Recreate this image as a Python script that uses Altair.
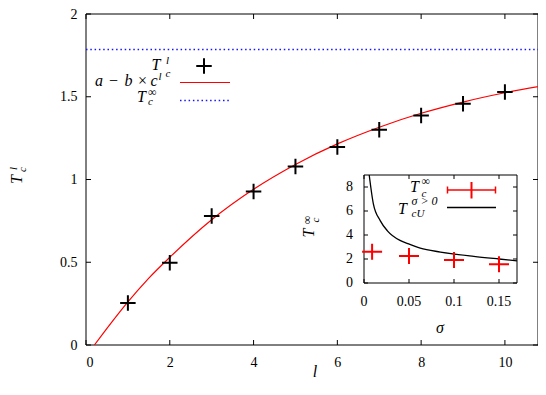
import altair as alt
import pandas as pd

# ---------------- data ----------------
L_VALUES = [1, 2, 3, 4, 5, 6, 7, 8, 9, 10]
TC_L = [0.254, 0.497, 0.779, 0.927, 1.079, 1.197, 1.300, 1.386, 1.457, 1.528]

FIT_L = [0.2, 0.5, 1, 1.5, 2, 3, 4, 5, 6, 7, 8, 9, 10, 11]
FIT_T = [0.0, 0.10, 0.26, 0.404, 0.53, 0.757, 0.941, 1.091, 1.215, 1.316, 1.40, 1.468, 1.524, 1.57]

TC_INF_LINE = [1.785]

X_TICKS = [0, 2, 4, 6, 8, 10]
Y_TICKS = [0, 0.5, 1, 1.5, 2]

SIGMA = [0.009, 0.05, 0.10, 0.15]
TC_INF = [2.6, 2.25, 1.92, 1.56]

U_SIGMA = [0.0058, 0.0104, 0.018, 0.026, 0.04, 0.048, 0.0625, 0.085, 0.122, 0.15, 0.17]
U_T = [9.0, 6.6, 5.2, 4.35, 3.55, 3.3, 2.9, 2.58, 2.22, 2.0, 1.85]

IX_TICKS = [0, 0.05, 0.10, 0.15]
IY_TICKS = [0, 2, 4, 6, 8]

# ---------------- layout ----------------
OX, OY = 86, 14          # page position of the main plot's top-left corner
W, H = 452, 331
X_MAX = 10.79            # keeps ~41.9 px per unit of l, as in the reference
PAD_TOP = OY - 8
PAD_BOTTOM = 36
FONT = "Liberation Serif"
NUMFONT = "Liberation Serif"


def P(X):
    return X - OX


def Q(Y):
    return Y - OY


ONE = pd.DataFrame({"k": [0]})


def txt(s, X, Y, size=16, italic=True, align="left", baseline="alphabetic", angle=0):
    return alt.Chart(ONE).mark_text(
        text=s, font=FONT, fontSize=size,
        fontStyle="italic" if italic else "normal",
        align=align, baseline=baseline, angle=angle, color="black",
    ).encode(x=alt.value(P(X)), y=alt.value(Q(Y)))


def hrule(X1, X2, Y, color, width=1.5, dash=None):
    kw = dict(color=color, strokeWidth=width)
    if dash:
        kw["strokeDash"] = dash
    return alt.Chart(ONE).mark_rule(**kw).encode(
        x=alt.value(P(X1)), x2=alt.value(P(X2)), y=alt.value(Q(Y)))


def vrule(X, Y1, Y2, color, width=1.5):
    return alt.Chart(ONE).mark_rule(color=color, strokeWidth=width).encode(
        x=alt.value(P(X)), y=alt.value(Q(Y1)), y2=alt.value(Q(Y2)))


PLUS = "M-1,0L1,0M0,-1L0,1"
PLUS_WIDE = "M-1.25,0L1.25,0M0,-1L0,1"

# ---------------- main plot ----------------
xs = alt.Scale(domain=[0, X_MAX], nice=False, zero=False)
ys = alt.Scale(domain=[0, 2], nice=False, zero=False)
AX = alt.Axis(values=X_TICKS, ticks=False, domain=False, grid=False, title=None,
              labelFont=NUMFONT, labelFontSize=14, labelPadding=10, labelColor="black")
AY = alt.Axis(values=Y_TICKS, format="~g", ticks=False, domain=False, grid=False, title=None,
              labelFont=NUMFONT, labelFontSize=14, labelPadding=9, labelColor="black")

frame = alt.Chart(ONE).mark_rect(fillOpacity=0, stroke="black", strokeWidth=1).encode(
    x=alt.value(0), x2=alt.value(W), y=alt.value(0), y2=alt.value(H))

xt_df = pd.DataFrame({"v": X_TICKS})
yt_df = pd.DataFrame({"v": Y_TICKS})
xt_bottom = alt.Chart(xt_df).mark_rule(color="black").encode(
    x=alt.X("v:Q", scale=xs, axis=AX), y=alt.value(H), y2=alt.value(H - 5))
xt_top = alt.Chart(xt_df).mark_rule(color="black").encode(
    x=alt.X("v:Q", scale=xs, axis=AX), y=alt.value(0), y2=alt.value(5))
yt_left = alt.Chart(yt_df).mark_rule(color="black").encode(
    y=alt.Y("v:Q", scale=ys, axis=AY), x=alt.value(0), x2=alt.value(5))
yt_right = alt.Chart(yt_df).mark_rule(color="black").encode(
    y=alt.Y("v:Q", scale=ys, axis=AY), x=alt.value(W - 5), x2=alt.value(W))

inf_line = alt.Chart(pd.DataFrame({"t": TC_INF_LINE})).mark_rule(
    color="#1515ff", strokeWidth=1.5, strokeDash=[1.5, 2.8]).encode(
    y=alt.Y("t:Q", scale=ys, axis=AY), x=alt.value(0), x2=alt.value(W))

fit = alt.Chart(pd.DataFrame({"l": FIT_L, "t": FIT_T})).mark_line(
    color="#ff0000", strokeWidth=1.2, interpolate="monotone", clip=True).encode(
    x=alt.X("l:Q", scale=xs, axis=AX), y=alt.Y("t:Q", scale=ys, axis=AY))

pts = alt.Chart(pd.DataFrame({"l": L_VALUES, "t": TC_L})).mark_point(
    shape=PLUS, size=240, filled=False, strokeWidth=2, color="black", opacity=1).encode(
    x=alt.X("l:Q", scale=xs, axis=AX), y=alt.Y("t:Q", scale=ys, axis=AY))

legend_main = [
    txt("T", 151.5, 70), txt("l", 166, 64, 11), txt("c", 165.5, 76.5, 11),
    alt.Chart(ONE).mark_point(shape=PLUS, size=240, filled=False, strokeWidth=2,
                              color="black", opacity=1).encode(
        x=alt.value(P(204)), y=alt.value(Q(66))),
    txt("a", 95, 86), txt("−", 113.5, 86, italic=False, align="center"),
    txt("b", 124.5, 86), txt("×", 142.5, 86, italic=False, align="center"),
    txt("c", 150.5, 86), txt("l", 158.5, 80, 11),
    hrule(180, 230, 82.5, "#ff0000", 1.2),
    txt("T", 137, 101.5), txt("∞", 148, 96, 12, italic=False), txt("c", 148, 104.5, 11),
    hrule(180, 229, 100.5, "#1515ff", 1.5, [1.5, 2.8]),
]

titles_main = [
    txt("T", 22, 179.5, 16, align="center", angle=270),
    txt("c", 26, 169.5, 11, align="center", angle=270),
    txt("l", 16.5, 168.5, 11, align="center", angle=270),
    txt("l", 315, 377, 16, align="center"),
]

main = alt.layer(frame, inf_line, fit, pts, xt_bottom, xt_top, yt_left, yt_right,
                 *legend_main, *titles_main)

# ---------------- inset ----------------
ixs = alt.Scale(domain=[0, 0.17], range=[P(364), P(517)], nice=False, zero=False)
iys = alt.Scale(domain=[0, 9], range=[Q(283), Q(175)], nice=False, zero=False)

iframe = alt.Chart(ONE).mark_rect(fill="white", stroke="black", strokeWidth=1).encode(
    x=alt.value(P(364)), x2=alt.value(P(517)), y=alt.value(Q(175)), y2=alt.value(Q(283)))

ixt = pd.DataFrame({"v": IX_TICKS})
iyt = pd.DataFrame({"v": IY_TICKS})
ixt_b = alt.Chart(ixt).mark_rule(color="black").encode(
    x=alt.X("v:Q", scale=ixs, axis=None), y=alt.value(Q(283)), y2=alt.value(Q(279)))
ixt_t = alt.Chart(ixt).mark_rule(color="black").encode(
    x=alt.X("v:Q", scale=ixs, axis=None), y=alt.value(Q(175)), y2=alt.value(Q(179)))
iyt_l = alt.Chart(iyt).mark_rule(color="black").encode(
    y=alt.Y("v:Q", scale=iys, axis=None), x=alt.value(P(364)), x2=alt.value(P(368)))
iyt_r = alt.Chart(iyt).mark_rule(color="black").encode(
    y=alt.Y("v:Q", scale=iys, axis=None), x=alt.value(P(513)), x2=alt.value(P(517)))

ixl = alt.Chart(ixt).mark_text(font=NUMFONT, fontSize=14, align="center", baseline="alphabetic",
                               color="black").encode(
    x=alt.X("v:Q", scale=ixs, axis=None), y=alt.value(Q(305.5)),
    text=alt.Text("v:Q", format="~g"))
iyl = alt.Chart(iyt).mark_text(font=NUMFONT, fontSize=14, align="right", baseline="middle",
                               color="black").encode(
    y=alt.Y("v:Q", scale=iys, axis=None), x=alt.value(P(353)),
    text=alt.Text("v:Q", format="~g"))

icurve = alt.Chart(pd.DataFrame({"s": U_SIGMA, "t": U_T})).mark_line(
    color="black", strokeWidth=1.3, interpolate="monotone").encode(
    x=alt.X("s:Q", scale=ixs, axis=None), y=alt.Y("t:Q", scale=iys, axis=None))

ipts = alt.Chart(pd.DataFrame({"s": SIGMA, "t": TC_INF})).mark_point(
    shape=PLUS_WIDE, size=256, filled=False, strokeWidth=2, color="#ff0000", opacity=1).encode(
    x=alt.X("s:Q", scale=ixs, axis=None), y=alt.Y("t:Q", scale=iys, axis=None))

legend_inset = [
    txt("T", 410, 192), txt("∞", 421.5, 185, 12, italic=False), txt("c", 421.5, 197, 11),
    hrule(447, 496, 190, "#ff0000", 1.5),
    vrule(447.5, 186.5, 193.5, "#ff0000", 1.5),
    vrule(495.5, 186.5, 193.5, "#ff0000", 1.5),
    vrule(471.5, 182, 198.5, "#ff0000", 2),
    txt("T", 398, 213.5), txt("σ > 0", 411.5, 205, 12), txt("cU", 411.5, 216.5, 11),
    hrule(447, 496, 207.5, "black", 1.3),
]

titles_inset = [
    txt("T", 313.5, 233, 16, align="center", angle=270),
    txt("∞", 311, 220, 12, italic=False, align="center", angle=270),
    txt("c", 318.5, 220, 11, align="center", angle=270),
    txt("σ", 440, 333, 16, align="center"),
]

inset = alt.layer(iframe, icurve, ipts, ixt_b, ixt_t, iyt_l, iyt_r, ixl, iyl,
                  *legend_inset, *titles_inset)

chart = alt.layer(main, inset).resolve_scale(x="independent", y="independent").properties(
    width=W, height=H,
    autosize=alt.AutoSizeParams(type="none"),
    padding={"left": OX - 8, "top": PAD_TOP, "right": 0, "bottom": PAD_BOTTOM},
).configure_view(stroke=None)

chart.save("out.html", embed_options={"renderer": "svg", "actions": False})
